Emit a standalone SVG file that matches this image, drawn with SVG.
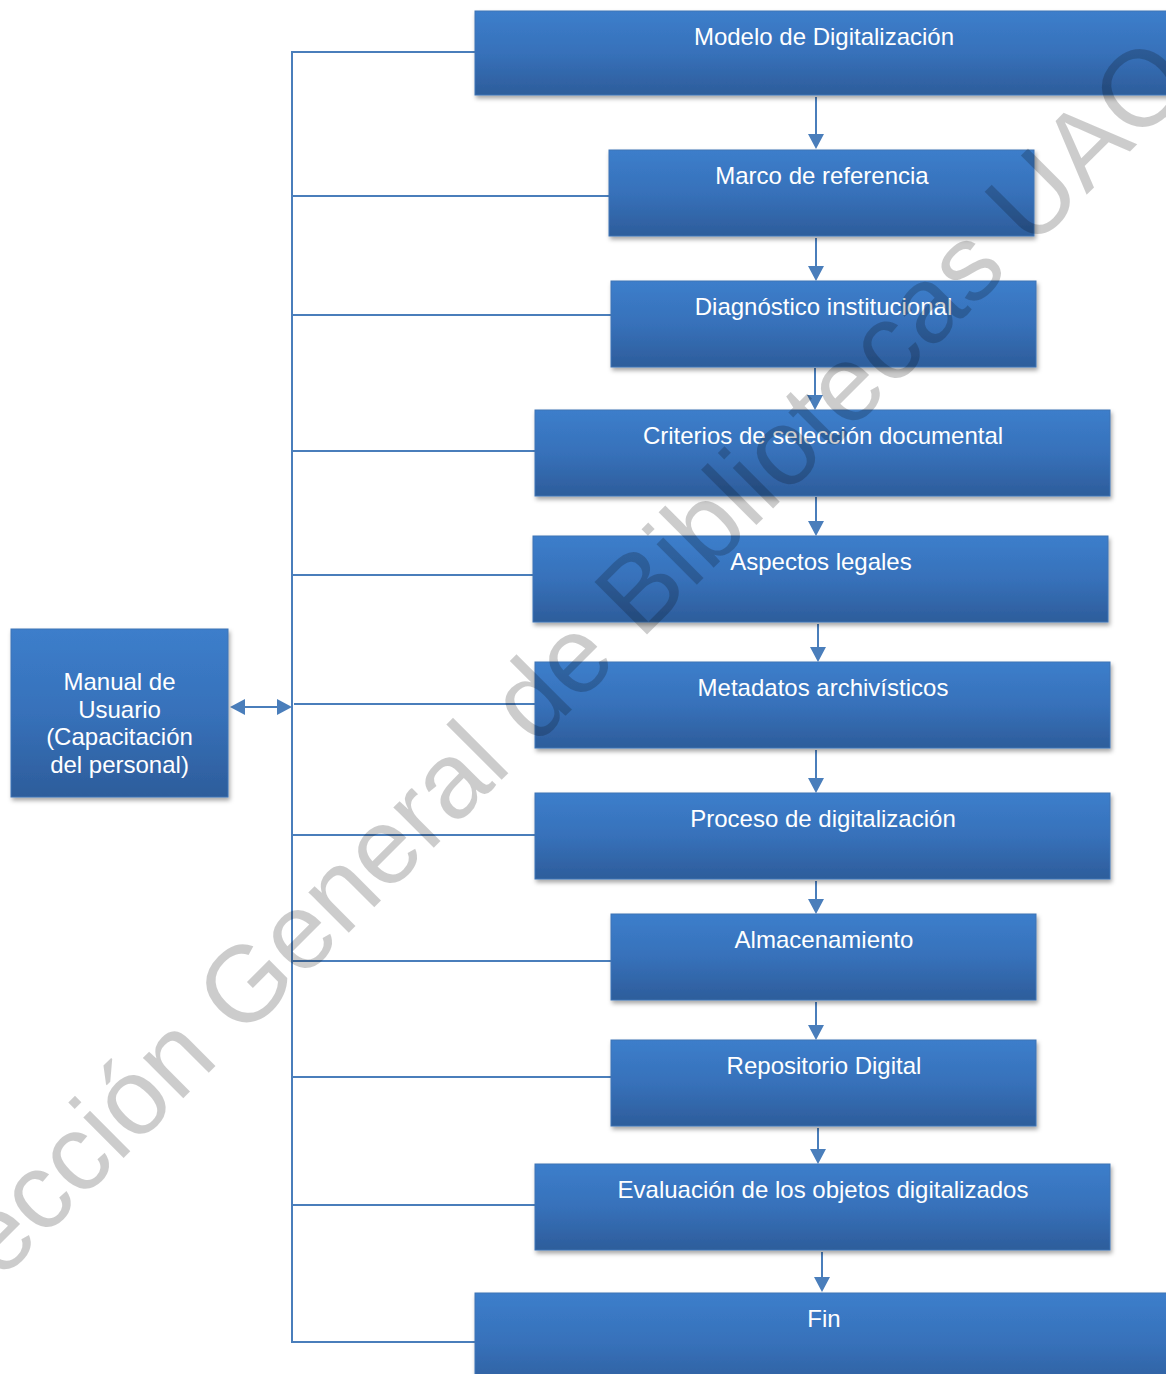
<svg xmlns="http://www.w3.org/2000/svg" width="1166" height="1374" viewBox="0 0 1166 1374">
<style>
.box{fill:url(#g);stroke:#3f74b5;stroke-width:1;filter:url(#sh)}
.t{font-family:"Liberation Sans",Arial,sans-serif;font-size:24px;fill:#ffffff;text-anchor:middle}
.c{stroke:#4a7ebb;stroke-width:2;fill:none}
.a{fill:#4a7ebb}
.wm{font-family:"Liberation Sans",Arial,sans-serif;font-size:108px;fill:#000;fill-opacity:0.2;text-anchor:middle}
</style>
<defs>
<linearGradient id="g" x1="0" y1="0" x2="0" y2="1">
<stop offset="0" stop-color="#3c7ecb"/>
<stop offset="0.5" stop-color="#3771ba"/>
<stop offset="1" stop-color="#2d5d9b"/>
</linearGradient>
<filter id="sh" x="-5%" y="-10%" width="110%" height="130%">
<feDropShadow dx="1.5" dy="3" stdDeviation="2" flood-color="#000" flood-opacity="0.35"/>
</filter>
<path id="tri" d="M-8,-15 L8,-15 L0,0 Z"/>
</defs>
<g id="connectors">
<line class="c" x1="292" y1="51" x2="292" y2="1343"/>
<line class="c" x1="291" y1="52" x2="475" y2="52"/>
<line class="c" x1="292" y1="196" x2="609" y2="196"/>
<line class="c" x1="292" y1="315" x2="611" y2="315"/>
<line class="c" x1="292" y1="451" x2="535" y2="451"/>
<line class="c" x1="292" y1="575" x2="533" y2="575"/>
<line class="c" x1="294" y1="704" x2="535" y2="704"/>
<line class="c" x1="292" y1="835" x2="535" y2="835"/>
<line class="c" x1="292" y1="961" x2="611" y2="961"/>
<line class="c" x1="292" y1="1077" x2="611" y2="1077"/>
<line class="c" x1="292" y1="1205" x2="535" y2="1205"/>
<line class="c" x1="291" y1="1342" x2="475" y2="1342"/>
<line class="c" x1="244" y1="707" x2="278" y2="707"/>
<path class="a" d="M230,707 L245,699 L245,715 Z"/>
<path class="a" d="M292,707 L277,699 L277,715 Z"/>
<line class="c" x1="816" y1="97" x2="816" y2="135"/>
<use class="a" href="#tri" x="816" y="149"/>
<line class="c" x1="816" y1="238" x2="816" y2="268"/>
<use class="a" href="#tri" x="816" y="281"/>
<line class="c" x1="815" y1="368" x2="815" y2="397"/>
<use class="a" href="#tri" x="815" y="410"/>
<line class="c" x1="816" y1="497" x2="816" y2="523"/>
<use class="a" href="#tri" x="816" y="536"/>
<line class="c" x1="818" y1="624" x2="818" y2="649"/>
<use class="a" href="#tri" x="818" y="662"/>
<line class="c" x1="816" y1="750" x2="816" y2="780"/>
<use class="a" href="#tri" x="816" y="793"/>
<line class="c" x1="816" y1="881" x2="816" y2="901"/>
<use class="a" href="#tri" x="816" y="914"/>
<line class="c" x1="816" y1="1002" x2="816" y2="1027"/>
<use class="a" href="#tri" x="816" y="1040"/>
<line class="c" x1="818" y1="1128" x2="818" y2="1151"/>
<use class="a" href="#tri" x="818" y="1164"/>
<line class="c" x1="822" y1="1252" x2="822" y2="1279"/>
<use class="a" href="#tri" x="822" y="1292"/>
</g>
<g id="n1"><rect class="box" x="475" y="11" width="698" height="84"/><text class="t" x="824" y="45">Modelo de Digitalización</text></g>
<g id="n2"><rect class="box" x="609" y="150" width="425" height="86"/><text class="t" x="822" y="184">Marco de referencia</text></g>
<g id="n3"><rect class="box" x="611" y="281" width="425" height="86"/><text class="t" x="823.5" y="315">Diagnóstico institucional</text></g>
<g id="n4"><rect class="box" x="535" y="410" width="575" height="86"/><text class="t" x="823" y="444">Criterios de selección documental</text></g>
<g id="n5"><rect class="box" x="533" y="536" width="575" height="86"/><text class="t" x="821" y="570">Aspectos legales</text></g>
<g id="n6"><rect class="box" x="535" y="662" width="575" height="86"/><text class="t" x="823" y="696">Metadatos archivísticos</text></g>
<g id="n7"><rect class="box" x="535" y="793" width="575" height="86"/><text class="t" x="823" y="827">Proceso de digitalización</text></g>
<g id="n8"><rect class="box" x="611" y="914" width="425" height="86"/><text class="t" x="824" y="948">Almacenamiento</text></g>
<g id="n9"><rect class="box" x="611" y="1040" width="425" height="86"/><text class="t" x="824" y="1074">Repositorio Digital</text></g>
<g id="n10"><rect class="box" x="535" y="1164" width="575" height="86"/><text class="t" x="823" y="1198">Evaluación de los objetos digitalizados</text></g>
<g id="n11"><rect class="box" x="475" y="1293" width="698" height="100"/><text class="t" x="824" y="1327">Fin</text></g>
<g id="n12"><rect class="box" x="11" y="629" width="217" height="168"/>
<text class="t"><tspan x="119.5" y="690">Manual de</tspan><tspan x="119.5" y="718">Usuario</tspan><tspan x="119.5" y="745">(Capacitación</tspan><tspan x="119.5" y="773">del personal)</tspan></text></g>
<g id="watermark"><text class="wm" transform="translate(549.5,732) rotate(-45)">Dirección General de Bibliotecas UAQ</text></g>
</svg>
